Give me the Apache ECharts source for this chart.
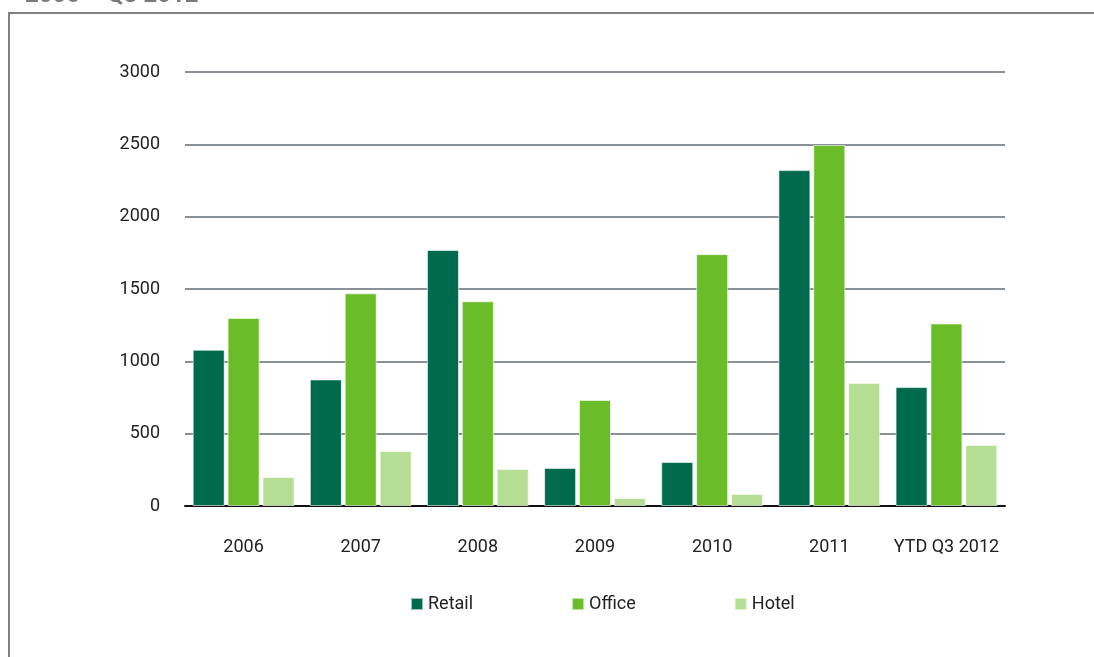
<!DOCTYPE html>
<html>
<head>
<meta charset="utf-8">
<script src="https://cdn.jsdelivr.net/npm/echarts@6/dist/echarts.min.js"></script>
<style>
  html, body { margin: 0; padding: 0; background: #fff; }
  #chart { width: 1094px; height: 657px; }
</style>
</head>
<body>
<div id="chart"></div>
<script>
const categories = ['2006', '2007', '2008', '2009', '2010', '2011', 'YTD Q3 2012']
const retail = [1080, 875, 1770, 263, 304, 2322, 822]
const office = [1300, 1470, 1415, 733, 1741, 2495, 1262]
const hotel = [200, 380, 255, 55, 83, 850, 422]
const yTicks = [0, 500, 1000, 1500, 2000, 2500, 3000]

const FONT = 'Roboto, "Liberation Sans", sans-serif'
const COLORS = ['#006b4c', '#6abd28', '#b5de94']

const chart = echarts.init(document.getElementById('chart'))

const barStyle = (color) => ({
  color: color,
  borderColor: 'rgba(255,255,255,0.6)',
  borderWidth: 1
})

const option = {
  animation: false,
  title: {
    text: '2006 – Q3 2012',
    left: 20,
    top: -21,
    textStyle: { fontFamily: FONT, fontSize: 24, fontWeight: 'bold', color: '#7a7a7a' }
  },
  graphic: [
    {
      type: 'polyline',
      shape: { points: [[9, 657], [9, 13], [1094, 13]] },
      style: { stroke: '#808080', lineWidth: 2, fill: null }
    }
  ],
  legend: {
    data: ['Retail', 'Office', 'Hotel'],
    top: 590,
    left: 405,
    itemWidth: 12,
    itemHeight: 12,
    itemGap: 98,
    icon: 'rect',
    textStyle: { fontFamily: FONT, fontSize: 18, color: '#222', width: 60 }
  },
  grid: { left: 185, right: 89, top: 72, bottom: 151 },
  xAxis: {
    type: 'category',
    data: categories,
    axisTick: { show: false },
    axisLine: { lineStyle: { color: '#111', width: 2 } },
    axisLabel: { interval: 0, fontFamily: FONT, fontSize: 18, color: '#222', margin: 32 }
  },
  yAxis: {
    type: 'value',
    min: yTicks[0],
    max: yTicks[yTicks.length - 1],
    interval: 500,
    axisLine: { show: false },
    axisTick: { show: false },
    axisLabel: { fontFamily: FONT, fontSize: 18, color: '#222', margin: 25, formatter: (v) => String(v) },
    splitLine: { lineStyle: { color: '#8a9298', width: 2 } }
  },
  series: [
    { name: 'Retail', type: 'bar', data: retail, barWidth: 32, barGap: '9%', itemStyle: barStyle(COLORS[0]) },
    { name: 'Office', type: 'bar', data: office, barWidth: 32, barGap: '9%', itemStyle: barStyle(COLORS[1]) },
    { name: 'Hotel', type: 'bar', data: hotel, barWidth: 32, barGap: '9%', itemStyle: barStyle(COLORS[2]) }
  ]
}

chart.setOption(option)
</script>
</body>
</html>
